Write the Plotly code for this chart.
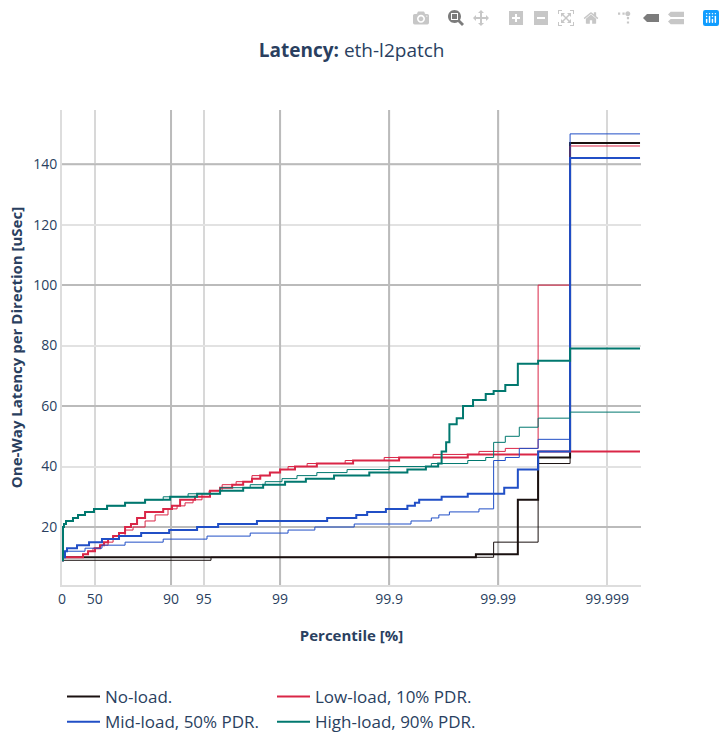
import plotly.graph_objects as go

END = 99.9995
X_LOG_MAX = 5.31
Y_MIN, Y_MAX = 0.83, 157.9

names = ["No-load.", "Low-load, 10% PDR.", "Mid-load, 50% PDR.", "High-load, 90% PDR."]
colors = ["#1A1110", "#DA2647", "#214FC6", "#01786F"]

tick_percentiles = [0, 50, 90, 95, 99, 99.9, 99.99, 99.999]
tick_labels = ["0", "50", "90", "95", "99", "99.9", "99.99", "99.999"]
strong_percentiles = [90, 99, 99.9, 99.99]
y_ticks = [20, 40, 60, 80, 100, 120, 140]
y_strong = [20, 60, 100, 140]

no_a_p = [0, 2.1, 99.984, 99.9934, 99.9957, 99.99781, END]
no_a_y = [9, 10, 11, 29, 43, 147, 147]
no_b_p = [0, 95.7, 99.989, 99.9957, 99.99781, END]
no_b_y = [9, 10, 15, 41, 147, 147]

low_a_p = [0, 2.1, 35.8, 42.3, 50.2, 55.2, 58.8, 62.2, 66, 70, 73.6, 76.7, 79.5, 82.7, 88.2, 90.2,
           91.74, 93.97, 95.61, 96.45, 97.25, 97.82, 98.19, 98.48, 98.76, 99.0, 99.27, 99.54,
           99.786, 99.919, 99.981, 99.9957, END]
low_a_y = [9, 10, 11, 12, 13, 14, 15, 16, 17, 18, 20, 21, 23, 25, 26, 27,
           29, 30, 32, 33, 34, 35, 36, 37, 38, 39, 40, 41,
           42, 43, 44, 45, 45]
low_b_p = [0, 2.1, 35.8, 42.3, 48, 55.2, 62.2, 66, 73.6, 77.7, 82.7, 86, 89.34, 91.2, 92.56, 93.72,
           94.8, 95.52, 96.6, 97.47, 98.19, 98.76, 99.0, 99.155, 99.435, 99.747, 99.889, 99.9605,
           99.985, 99.9914, 99.9957, 99.99781, END]
low_b_y = [9, 10, 11, 12, 13, 14, 15, 17, 19, 20, 22, 24, 26, 27, 28, 29,
           31, 32, 34, 35, 37, 38, 39, 40, 41, 42, 43, 44,
           45, 46, 100, 146, 146]

mid_a_p = [0, 2.1, 6.1, 10, 27.2, 43.5, 57, 70, 81.2, 89.6, 94.23, 96.3, 98.37, 99.63, 99.80,
           99.841, 99.893, 99.932, 99.942, 99.947, 99.967, 99.981, 99.9912, 99.9934, 99.9957,
           99.99781, END]
mid_a_y = [9, 10, 12, 13, 14, 15, 16, 17, 18, 19, 20, 21, 22, 23, 24,
           25, 26, 27, 28, 29, 30, 31, 33, 39, 45,
           142, 142]
mid_b_p = [0, 2.1, 6.1, 38.5, 57, 73.6, 88.2, 95.32, 98.12, 99.155, 99.52, 99.791, 99.937, 99.959,
           99.965, 99.972, 99.985, 99.989, 99.9914, 99.9936, 99.9957, 99.99781, END]
mid_b_y = [9, 10, 12, 13, 14, 15, 16, 17, 18, 19, 20, 21, 22, 23,
           24, 25, 26, 42, 43, 46, 49, 150, 150]

high_a_p = [0, 2.1, 4.1, 8.1, 20.7, 28.7, 38.5, 49.1, 61.4, 73.6, 82.7, 89.8, 94.23, 96.45, 97.82,
            98.57, 99.10, 99.42, 99.68, 99.848, 99.932, 99.954, 99.9645, 99.967, 99.970, 99.972,
            99.976, 99.979, 99.983, 99.987, 99.989, 99.9914, 99.9934, 99.9957, 99.99781, END]
high_a_y = [9, 20, 21, 22, 23, 24, 25, 26, 27, 28, 29, 30, 31, 32, 33,
            34, 35, 36, 37, 38, 39, 40, 41, 45, 48, 54,
            56, 60, 62, 64, 65, 67, 74, 75, 79, 79]
high_b_p = [0, 2.1, 4.1, 8.1, 20.7, 28.7, 38.5, 49.1, 61.4, 73.6, 82.7, 88.2, 93.02, 96.45, 98.12,
            98.63, 99.04, 99.30, 99.54, 99.757, 99.9, 99.959, 99.981, 99.987, 99.989, 99.9914,
            99.9936, 99.9957, 99.99781, END]
high_b_y = [9, 20, 21, 22, 23, 24, 25, 26, 27, 28, 29, 30, 31, 33, 34,
            35, 36, 37, 38, 39, 40, 41, 42, 43, 48, 50,
            53, 56, 58, 58]

groups = [
    (no_a_p, no_a_y, no_b_p, no_b_y),
    (low_a_p, low_a_y, low_b_p, low_b_y),
    (mid_a_p, mid_a_y, mid_b_p, mid_b_y),
    (high_a_p, high_a_y, high_b_p, high_b_y),
]


def inv(pcts):
    return [100.0 / (100.0 - p) for p in pcts]


fig = go.Figure()
for name, color, (ap, ay, bp, by) in zip(names, colors, groups):
    fig.add_trace(go.Scatter(x=inv(ap), y=ay, mode="lines", name=name, legendgroup=name,
                             line=dict(color=color, width=2, shape="hv")))
    fig.add_trace(go.Scatter(x=inv(bp), y=by, mode="lines", name=name, legendgroup=name,
                             showlegend=False, line=dict(color=color, width=1, shape="hv")))

STRONG = dict(color="#bbbbbb", width=2)
for v in inv(strong_percentiles):
    fig.add_shape(type="line", xref="x", yref="y", x0=v, x1=v, y0=Y_MIN, y1=Y_MAX, layer="between", line=STRONG)
for v in y_strong:
    fig.add_shape(type="line", xref="x", yref="y", x0=1, x1=10 ** X_LOG_MAX, y0=v, y1=v, layer="between", line=STRONG)

FONT = "Open Sans, sans-serif"
fig.update_layout(
    width=725, height=733, autosize=False,
    margin=dict(l=62, r=84, t=110, b=148, pad=0, autoexpand=False),
    plot_bgcolor="white", paper_bgcolor="white",
    font=dict(family=FONT, color="#2a3f5f", size=14),
    title=dict(text="<b>Latency:</b> eth-l2patch", x=0.485, xanchor="center", y=0.931, yanchor="middle",
               font=dict(size=19, color="#2a3f5f", family=FONT)),
    showlegend=True,
    legend=dict(orientation="h", x=0, xanchor="left", y=-0.198, yanchor="top",
                font=dict(size=17, color="#2a3f5f"), entrywidth=162, entrywidthmode="pixels",
                itemwidth=33, traceorder="normal"),
    modebar=dict(add=["togglespikelines", "hoverclosest", "hovercompare"]),
    xaxis=dict(type="log", range=[0, X_LOG_MAX], tickmode="array", tickvals=inv(tick_percentiles),
               ticktext=tick_labels, showgrid=True, gridcolor="#d8d8d8", gridwidth=1.5,
               zeroline=False, showline=True, linecolor="#dddddd", linewidth=2, ticks="",
               tickfont=dict(size=14),
               title=dict(text="<b>Percentile [%]</b>", font=dict(size=15), standoff=24)),
    yaxis=dict(range=[Y_MIN, Y_MAX], tickmode="array", tickvals=y_ticks, showgrid=True,
               gridcolor="#e2e2e2", gridwidth=2, zeroline=False, showline=True,
               linecolor="#dddddd", linewidth=2, ticks="", tickfont=dict(size=14),
               title=dict(text="<b>One-Way Latency per Direction [uSec]</b>", font=dict(size=15), standoff=7)),
)

page_css = """
var s = document.createElement('style');
s.textContent = 'body{margin:0 !important} .modebar-container{top:5px !important}' +
  ' .modebar-btn{padding:3px 4.5px !important} .modebar-group{padding-left:10px !important}';
document.head.appendChild(s);
function paintLogo() {
  var groups = document.querySelectorAll('.modebar-group');
  if (!groups.length) { return; }
  var shapes = groups[groups.length - 1].querySelectorAll('svg rect, svg path, svg circle, svg polygon');
  shapes.forEach(function (el, i) {
    el.style.setProperty('fill', i === 0 ? '#119DFF' : '#FFFFFF', 'important');
  });
}
paintLogo();
setTimeout(paintLogo, 100);
"""

fig.write_html(
    "out.html",
    config=dict(displayModeBar=True),
    post_script=page_css,
)
